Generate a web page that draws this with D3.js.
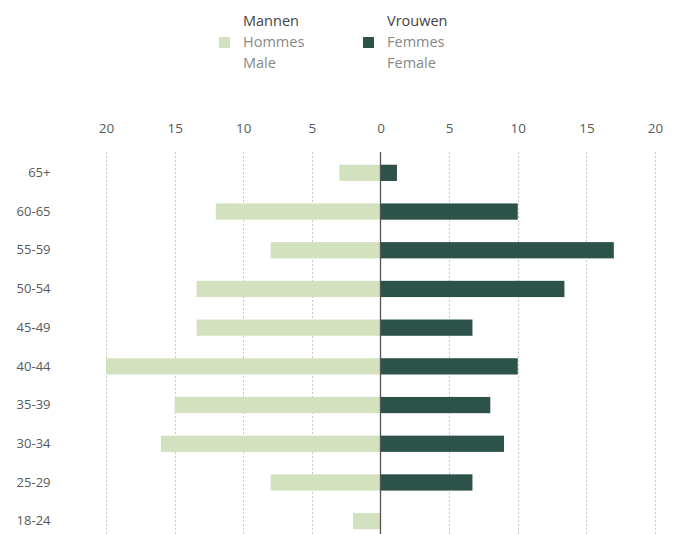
<!DOCTYPE html>
<html>
<head>
<meta charset="utf-8">
<script src="https://cdn.jsdelivr.net/npm/d3@7"></script>
<style>
  body { margin: 0; background: #fff; }
  svg { display: block; font-family: "Open Sans", "Noto Sans", sans-serif; }
</style>
</head>
<body>
<svg id="chart" width="678" height="534"></svg>
<script>
const categories = ["65+", "60-65", "55-59", "50-54", "45-49", "40-44", "35-39", "30-34", "25-29", "18-24"];
const maleValues = [3.0, 12.0, 8.0, 13.4, 13.4, 20.0, 15.0, 16.0, 8.0, 2.0];
const femaleValues = [1.2, 10.0, 17.0, 13.4, 6.7, 10.0, 8.0, 9.0, 6.7, 0];
const tickValues = [-20, -15, -10, -5, 0, 5, 10, 15, 20];
const legendMale = ["Mannen", "Hommes", "Male"];
const legendFemale = ["Vrouwen", "Femmes", "Female"];

const colorMale = "#d3e1bf";
const colorFemale = "#2c5249";

const svg = d3.select("#chart");

const x = d3.scaleLinear().domain([-20, 20]).range([106, 655]);
const y = d3.scaleBand().domain(categories).range([153.5, 540.5]).paddingInner(0.58).paddingOuter(0.29);

// gridlines
svg.append("g").selectAll("line")
  .data(tickValues.filter(d => d !== 0))
  .join("line")
  .attr("x1", d => Math.round(x(d)) + 0.5)
  .attr("x2", d => Math.round(x(d)) + 0.5)
  .attr("y1", 152).attr("y2", 534)
  .attr("stroke", "#c8c8c8")
  .attr("stroke-width", 1)
  .attr("stroke-dasharray", "2,2");

// tick labels
const xAxis = d3.axisTop(x).tickValues(tickValues).tickFormat(d => Math.abs(d)).tickSize(0).tickPadding(0);
const gx = svg.append("g").attr("transform", "translate(0,133)").call(xAxis);
gx.select(".domain").remove();
gx.selectAll("text").attr("fill", "#5a5a5a").attr("font-size", 13.5).attr("font-family", "\"Open Sans\", sans-serif");

// category labels
const yAxis = d3.axisLeft(y).tickSize(0).tickPadding(0);
const gy = svg.append("g").attr("transform", "translate(50.5,0)").call(yAxis);
gy.select(".domain").remove();
gy.selectAll("text").attr("fill", "#5a5a5a").attr("font-size", 13).attr("font-family", "\"Open Sans\", sans-serif");

// male bars
svg.append("g").selectAll("rect")
  .data(categories.map((c, i) => ({c, v: maleValues[i]})))
  .join("rect")
  .attr("x", d => x(-d.v))
  .attr("y", d => y(d.c))
  .attr("width", d => x(0) - x(-d.v))
  .attr("height", y.bandwidth())
  .attr("fill", colorMale);

// female bars
svg.append("g").selectAll("rect")
  .data(categories.map((c, i) => ({c, v: femaleValues[i]})))
  .join("rect")
  .attr("x", x(0))
  .attr("y", d => y(d.c))
  .attr("width", d => x(d.v) - x(0))
  .attr("height", y.bandwidth())
  .attr("fill", colorFemale);

// center axis line
svg.append("line")
  .attr("x1", x(0)).attr("x2", x(0))
  .attr("y1", 152).attr("y2", 534)
  .attr("stroke", "#555").attr("stroke-width", 1.3);

// legend
function legend(x0, labels, color) {
  const g = svg.append("g");
  g.append("rect").attr("x", x0).attr("y", 37).attr("width", 11).attr("height", 11).attr("fill", color);
  g.selectAll("text").data(labels).join("text")
    .attr("x", x0 + 24)
    .attr("y", (d, i) => 26 + i * 21)
    .attr("font-size", 14.5)
    .attr("fill", (d, i) => i === 0 ? "#444" : "#888")
    .text(d => d);
}
legend(219, legendMale, colorMale);
legend(363, legendFemale, colorFemale);
</script>
</body>
</html>
